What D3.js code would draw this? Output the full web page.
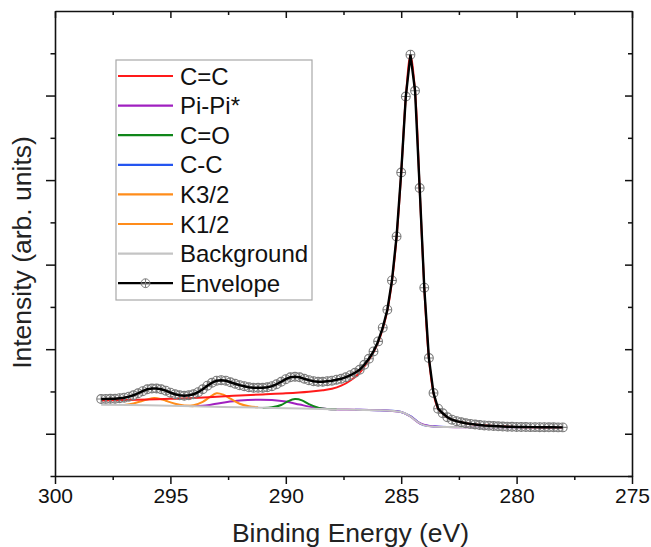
<!DOCTYPE html>
<html>
<head>
<meta charset="utf-8">
<script src="https://cdnjs.cloudflare.com/ajax/libs/d3/7.8.5/d3.min.js"></script>
<style>
  html, body { margin: 0; padding: 0; background: #fff; }
  svg { display: block; font-family: "Liberation Sans", Arial, sans-serif; }
</style>
</head>
<body>
<div id="chart"></div>
<script>
// Measured envelope (0.2 eV steps)
const energy = [
  298.0,297.8,297.6,297.4,297.2,297.0,296.8,296.6,296.4,296.2,
  296.0,295.8,295.6,295.4,295.2,295.0,294.8,294.6,294.4,294.2,
  294.0,293.8,293.6,293.4,293.2,293.0,292.8,292.6,292.4,292.2,
  292.0,291.8,291.6,291.4,291.2,291.0,290.8,290.6,290.4,290.2,
  290.0,289.8,289.6,289.4,289.2,289.0,288.8,288.6,288.4,288.2,
  288.0,287.8,287.6,287.4,287.2,287.0,286.8,286.6,286.4,286.2,
  286.0,285.8,285.6,285.4,285.2,285.0,284.8,284.6,284.4,284.2,
  284.0,283.8,283.6,283.4,283.2,283.0,282.8,282.6,282.4,282.2,
  282.0,281.8,281.6,281.4,281.2,281.0,280.8,280.6,280.4,280.2,
  280.0,279.8,279.6,279.4,279.2,279.0,278.8,278.6,278.4,278.2,
  278.0
];
const envelope = [
  0.410,0.412,0.414,0.414,0.420,0.426,0.438,0.455,0.479,0.503,
  0.526,0.535,0.535,0.526,0.509,0.485,0.467,0.455,0.449,0.455,
  0.467,0.491,0.526,0.568,0.603,0.627,0.633,0.627,0.609,0.591,
  0.574,0.562,0.550,0.544,0.544,0.544,0.550,0.562,0.585,0.615,
  0.645,0.668,0.674,0.668,0.650,0.633,0.621,0.615,0.615,0.621,
  0.627,0.639,0.650,0.668,0.692,0.721,0.757,0.816,0.887,0.973,
  1.092,1.254,1.467,1.813,2.334,3.090,3.989,4.483,4.057,2.906,
  1.727,0.895,0.481,0.296,0.242,0.195,0.166,0.148,0.136,0.124,
  0.116,0.109,0.103,0.098,0.095,0.091,0.088,0.085,0.083,0.082,
  0.080,0.079,0.079,0.078,0.078,0.077,0.077,0.076,0.076,0.075,
  0.075
];

// Fitted components (plotted on top of the background)
const bgEnergy = [298, 296, 294, 292, 290, 288, 287, 286, 285.5, 285.0, 284.8, 284.6, 284.4, 284.2, 284.0, 283.6, 283.0, 281, 278];
const bgValues = [0.343, 0.337, 0.325, 0.313, 0.302, 0.290, 0.284, 0.278, 0.272, 0.256, 0.236, 0.204, 0.162, 0.124, 0.099, 0.084, 0.079, 0.077, 0.075];

const ccEnergy = [287, 286, 285.5, 285, 284.6, 284.2, 284, 283];
const ccValues = [0.284, 0.279, 0.273, 0.258, 0.207, 0.126, 0.100, 0.079];

const piEnergy = [294.2, 293.6, 293.2, 292.6, 292.0, 291.2, 290.6, 290.0, 289.4, 288.8, 288.2, 287, 286, 285.5, 285, 284.6, 284.2, 283.8, 283, 281, 278];
const piValues = [0.327, 0.330, 0.345, 0.372, 0.392, 0.402, 0.398, 0.380, 0.345, 0.312, 0.293, 0.284, 0.278, 0.272, 0.256, 0.204, 0.124, 0.092, 0.079, 0.077, 0.075];

const coEnergy = [291.0, 290.6, 290.2, 289.9, 289.6, 289.3, 289.0, 288.6, 288.2, 287.8];
const coValues = [0.305, 0.312, 0.340, 0.385, 0.410, 0.395, 0.350, 0.308, 0.293, 0.289];

const k12Energy = [297.0, 296.6, 296.2, 296.0, 295.7, 295.4, 295.2, 294.8, 294.4, 294.0];
const k12Values = [0.340, 0.358, 0.390, 0.404, 0.422, 0.408, 0.390, 0.355, 0.334, 0.326];

const k32Energy = [294.4, 294.0, 293.6, 293.3, 293.0, 292.7, 292.4, 292.0, 291.6, 291.2];
const k32Values = [0.328, 0.337, 0.378, 0.432, 0.479, 0.461, 0.414, 0.355, 0.325, 0.313];

const c2Energy = [298, 297, 296, 295, 294, 293, 292, 291, 290, 289, 288.4, 288, 287.6, 287.2, 286.8, 286.6, 286.4, 286.2, 286.0, 285.8, 285.6, 285.4, 285.2, 285.0, 284.8, 284.6, 284.4, 284.2, 284.0, 283.8, 283.6, 283.4, 283.2, 283.0, 282.6, 282.0, 281.0, 280.0, 278.0];
const c2Values = [0.393, 0.398, 0.405, 0.413, 0.423, 0.438, 0.452, 0.465, 0.478, 0.497, 0.515, 0.532, 0.568, 0.630, 0.722, 0.792, 0.872, 0.962, 1.080, 1.243, 1.458, 1.803, 2.323, 3.078, 3.978, 4.475, 4.050, 2.898, 1.720, 0.890, 0.478, 0.293, 0.239, 0.193, 0.147, 0.115, 0.090, 0.080, 0.075];

const xTicks = [300, 295, 290, 285, 280, 275];
const legendNames = ['C=C', 'Pi-Pi*', 'C=O', 'C-C', 'K3/2', 'K1/2', 'Background', 'Envelope'];
const legendColors = ['#ff1a1a', '#a020c0', '#10861a', '#2455f0', '#ff8c1a', '#ff8c1a', '#c4c4c4', '#000000'];

const W = 651, H = 547;
const margin = { top: 11, right: 19, bottom: 71, left: 55 };
const iw = W - margin.left - margin.right;
const ih = H - margin.top - margin.bottom;

const svg = d3.select('#chart').append('svg')
  .attr('width', W).attr('height', H);

const x = d3.scaleLinear().domain([300, 275]).range([0, iw]);
const y = d3.scaleLinear().domain([-0.5, 5]).range([ih, 0]);

const g = svg.append('g').attr('transform', `translate(${margin.left},${margin.top})`);

const minorX = d3.range(297.5, 275, -5);
const majorY = [0, 1, 2, 3, 4];
const minorY = [-0.5, 0.5, 1.5, 2.5, 3.5, 4.5];

// curves
const line = d3.line()
  .x(d => x(d[0])).y(d => y(d[1]))
  .curve(d3.curveCatmullRom.alpha(0.5));

const series = [
  { e: ccEnergy, v: ccValues, c: legendColors[3] },
  { e: piEnergy, v: piValues, c: legendColors[1] },
  { e: coEnergy, v: coValues, c: legendColors[2] },
  { e: k12Energy, v: k12Values, c: legendColors[5] },
  { e: k32Energy, v: k32Values, c: legendColors[4] },
  { e: c2Energy, v: c2Values, c: legendColors[0] },
  { e: bgEnergy, v: bgValues, c: legendColors[6] }
];

series.forEach(s => {
  g.append('path')
    .datum(s.e.map((e, i) => [e, s.v[i]]))
    .attr('fill', 'none')
    .attr('stroke', s.c)
    .attr('stroke-width', 2)
    .attr('d', line);
});

const envPts = energy.map((e, i) => [e, envelope[i]]);

// envelope markers (circle with cross)
const mk = g.append('g').attr('stroke', '#7c7c7c').attr('stroke-width', 1.1).attr('fill', 'none');
envPts.forEach(p => {
  const cx = x(p[0]), cy = y(p[1]);
  mk.append('circle').attr('cx', cx).attr('cy', cy).attr('r', 4.4);
  mk.append('path').attr('d', `M${cx - 4.4},${cy}H${cx + 4.4}M${cx},${cy - 4.4}V${cy + 4.4}`);
});

g.append('path')
  .datum(envPts)
  .attr('fill', 'none')
  .attr('stroke', '#000')
  .attr('stroke-width', 2.4)
  .attr('d', d3.line().x(d => x(d[0])).y(d => y(d[1])));

// axes
const styleAxis = sel => {
  sel.selectAll('.domain').attr('stroke', '#111').attr('stroke-width', 1.6);
  sel.selectAll('.tick line').attr('stroke', '#111').attr('stroke-width', 1.5);
};

const gxB = g.append('g').attr('transform', `translate(0,${ih})`)
  .call(d3.axisBottom(x).tickValues(xTicks).tickSize(8).tickSizeOuter(0).tickPadding(4));
gxB.call(styleAxis);
gxB.selectAll('.tick text').attr('fill', '#111').style('font-size', '21px')
  .style('font-family', '"Liberation Sans", Arial, sans-serif');
g.append('g').attr('transform', `translate(0,${ih})`)
  .call(d3.axisBottom(x).tickValues(minorX).tickSize(4).tickFormat(''))
  .call(styleAxis).select('.domain').remove();

g.append('g')
  .call(d3.axisTop(x).tickValues(xTicks).tickSize(-7).tickSizeOuter(0).tickFormat(''))
  .call(styleAxis);
g.append('g')
  .call(d3.axisTop(x).tickValues(minorX).tickSize(-4).tickFormat(''))
  .call(styleAxis).select('.domain').remove();

g.append('g')
  .call(d3.axisLeft(y).tickValues(majorY).tickSize(9).tickSizeOuter(0).tickFormat(''))
  .call(styleAxis);
g.append('g')
  .call(d3.axisLeft(y).tickValues(minorY).tickSize(4.5).tickFormat(''))
  .call(styleAxis).select('.domain').remove();

g.append('g').attr('transform', `translate(${iw},0)`)
  .call(d3.axisRight(y).tickValues(majorY).tickSize(-7).tickSizeOuter(0).tickFormat(''))
  .call(styleAxis);
g.append('g').attr('transform', `translate(${iw},0)`)
  .call(d3.axisRight(y).tickValues(minorY).tickSize(-4).tickFormat(''))
  .call(styleAxis).select('.domain').remove();

// titles
svg.append('text')
  .attr('x', margin.left + iw / 2 + 7).attr('y', 542)
  .attr('text-anchor', 'middle')
  .style('font-size', '26.5px').attr('fill', '#222')
  .text('Binding Energy (eV)');

svg.append('text')
  .attr('transform', `translate(31,${margin.top + ih / 2 + 9}) rotate(-90)`)
  .attr('text-anchor', 'middle')
  .style('font-size', '26.5px').attr('fill', '#222')
  .text('Intensity (arb. units)');

// legend
const lg = svg.append('g').attr('transform', 'translate(116,60)');
lg.append('rect').attr('width', 196).attr('height', 240)
  .attr('fill', '#fff').attr('stroke', '#a8a8a8').attr('stroke-width', 1.2);

legendNames.forEach((name, i) => {
  const ry = 16 + i * 29.6;
  lg.append('line').attr('x1', 2).attr('x2', 57).attr('y1', ry).attr('y2', ry)
    .attr('stroke', legendColors[i]).attr('stroke-width', 2.2);
  if (name === 'Envelope') {
    lg.append('circle').attr('cx', 29.5).attr('cy', ry).attr('r', 4.4)
      .attr('fill', 'none').attr('stroke', '#7c7c7c');
    lg.append('path').attr('d', `M25.1,${ry}H33.9M29.5,${ry - 4.4}V${ry + 4.4}`)
      .attr('stroke', '#7c7c7c').attr('fill', 'none');
  }
  lg.append('text').attr('x', 64).attr('y', ry + 8.5)
    .style('font-size', '24px').attr('fill', '#111')
    .text(name);
});
</script>
</body>
</html>
